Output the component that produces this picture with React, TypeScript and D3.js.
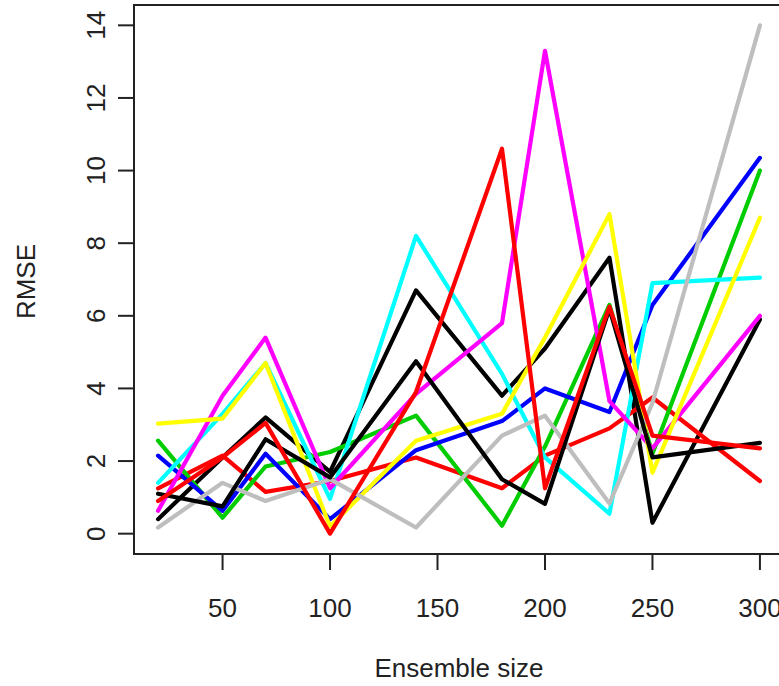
import React from "react";
import * as d3 from "d3";

const ensembleSizes = [20, 50, 70, 100, 140, 180, 200, 230, 250, 300];

const black1 = [0.4, 2.1, 3.2, 1.7, 6.7, 3.8, 5.1, 7.6, 0.3, 5.9];
const red1 = [1.25, 2.15, 1.15, 1.45, 2.1, 1.25, 2.15, 2.9, 3.75, 1.45];
const green1 = [2.56, 0.44, 1.85, 2.25, 3.25, 0.22, 2.4, 6.3, 2.2, 10.0];
const blue1 = [2.15, 0.63, 2.2, 0.4, 2.3, 3.1, 4.0, 3.35, 6.3, 10.35];
const cyan1 = [1.4, 3.3, 4.7, 0.96, 8.2, 4.4, 2.1, 0.55, 6.9, 7.05];
const magenta1 = [0.63, 3.8, 5.4, 1.25, 3.85, 5.8, 13.3, 3.65, 2.35, 6.0];
const yellow1 = [3.03, 3.17, 4.7, 0.2, 2.56, 3.3, 5.4, 8.8, 1.68, 8.7];
const gray1 = [0.17, 1.4, 0.9, 1.5, 0.17, 2.7, 3.25, 0.83, 3.6, 14.0];
const black2 = [1.1, 0.75, 2.6, 1.55, 4.75, 1.5, 0.82, 6.2, 2.1, 2.5];
const red2 = [0.9, 2.1, 3.05, 0.0, 3.9, 10.6, 1.25, 6.25, 2.7, 2.35];

const seriesList = [black1, red1, green1, blue1, cyan1, magenta1, yellow1, gray1, black2, red2];
const seriesColors = ["#000000", "#FF0000", "#00CD00", "#0000FF", "#00FFFF", "#FF00FF", "#FFFF00", "#BEBEBE", "#000000", "#FF0000"];

const xTicks = [50, 100, 150, 200, 250, 300];
const yTicks = [0, 2, 4, 6, 8, 10, 12, 14];

const W = 779;
const H = 686;
const left = 134;
const right = 784;
const top = 5;
const bottom = 554;
const font = "'Liberation Sans', Arial, sans-serif";
const fs = 26;

export default function App() {
  const xMin = d3.min(ensembleSizes)!;
  const xMax = d3.max(ensembleSizes)!;
  const xPad = (xMax - xMin) * 0.04;
  const allY = seriesList.flat();
  const yMin = d3.min(allY)!;
  const yMax = d3.max(allY)!;
  const yPad = (yMax - yMin) * 0.04;

  const x = d3.scaleLinear().domain([xMin - xPad, xMax + xPad]).range([left, right]);
  const y = d3.scaleLinear().domain([yMin - yPad, yMax + yPad]).range([bottom, top]);

  const line = d3
    .line<number>()
    .x((_, i) => x(ensembleSizes[i]))
    .y((d) => y(d));

  const axisColor = "#222";

  return (
    <svg
      width={W}
      height={H}
      style={{ position: "absolute", left: 0, top: 0, background: "#fff" }}
    >
      <rect x={0} y={0} width={W} height={H} fill="#fff" />
      {seriesList.map((s, i) => (
        <path
          key={i}
          d={line(s) || ""}
          fill="none"
          stroke={seriesColors[i]}
          strokeWidth={4.2}
          strokeLinejoin="round"
          strokeLinecap="round"
        />
      ))}
      <rect
        x={left}
        y={top}
        width={right - left}
        height={bottom - top}
        fill="none"
        stroke={axisColor}
        strokeWidth={2}
      />
      <line x1={x(xTicks[0])} x2={x(xTicks[xTicks.length - 1])} y1={bottom} y2={bottom} stroke={axisColor} strokeWidth={2} />
      {xTicks.map((t) => (
        <g key={t}>
          <line x1={x(t)} x2={x(t)} y1={bottom} y2={bottom + 16} stroke={axisColor} strokeWidth={2} />
          <text x={x(t)} y={617} textAnchor="middle" fontFamily={font} fontSize={fs} fill="#222">
            {t}
          </text>
        </g>
      ))}
      <line x1={left} x2={left} y1={y(yTicks[0])} y2={y(yTicks[yTicks.length - 1])} stroke={axisColor} strokeWidth={2} />
      {yTicks.map((t) => (
        <g key={t}>
          <line x1={left - 16} x2={left} y1={y(t)} y2={y(t)} stroke={axisColor} strokeWidth={2} />
          <text
            transform={`translate(105,${y(t)}) rotate(-90)`}
            textAnchor="middle"
            fontFamily={font}
            fontSize={fs}
            fill="#222"
          >
            {t}
          </text>
        </g>
      ))}
      <text x={(left + right) / 2} y={677} textAnchor="middle" fontFamily={font} fontSize={fs} fill="#222">
        Ensemble size
      </text>
      <text
        transform={`translate(35,${(top + bottom) / 2 + 2}) rotate(-90)`}
        textAnchor="middle"
        fontFamily={font}
        fontSize={fs}
        fill="#222"
      >
        RMSE
      </text>
    </svg>
  );
}
